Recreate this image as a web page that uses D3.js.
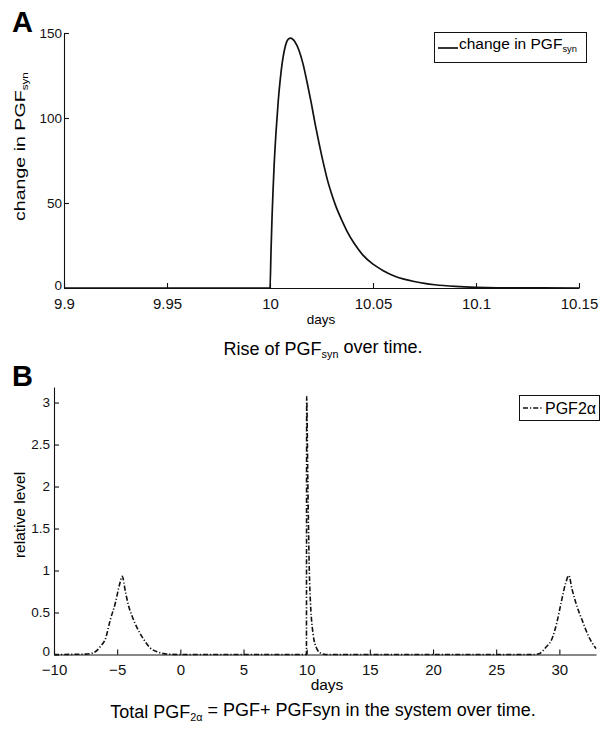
<!DOCTYPE html>
<html>
<head>
<meta charset="utf-8">
<script src="https://cdn.jsdelivr.net/npm/d3@7"></script>
<style>
    body { margin: 0; background: #fff; }
    svg { display: block; font-family: Arial, 'Liberation Sans', Helvetica, sans-serif; }
</style>
</head>
<body>
<svg id="chart" width="616" height="729"></svg>
<script>
// Panel A: change in PGFsyn against days
const synDays = [9.9, 10.0, 10.0005, 10.001, 10.0015, 10.002, 10.003, 10.004, 10.005, 10.006,
    10.007, 10.008, 10.009, 10.01, 10.012, 10.014, 10.016, 10.018, 10.02, 10.022,
    10.024, 10.026, 10.028, 10.03, 10.032, 10.035, 10.038, 10.041, 10.045, 10.05,
    10.055, 10.06, 10.065, 10.07, 10.075, 10.08, 10.09, 10.1, 10.11, 10.15];
const synChange = [0, 0, 22, 42, 58, 72, 93, 110, 123, 133,
    140, 144.5, 146.5, 147, 145, 140, 132, 121, 109, 96,
    84, 73, 63, 55, 48, 39.5, 32, 26, 19.5, 14,
    10.2, 7.2, 5.2, 3.8, 2.7, 1.9, 0.9, 0.35, 0.1, 0];

// Panel B: relative level of PGF2a against days
const totalDays = [-10, -7.5, -6.9, -6.3, -5.9, -5.55, -5.15, -4.8, -4.6, -4.35,
    -4.1, -3.8, -3.4, -2.9, -2.4, -1.8, -1, 0, 9.98, 10.0,
    10.09, 10.23, 10.5, 10.8, 11.17, 11.5, 28.0, 28.4, 28.9, 29.45,
    29.8, 30.13, 30.5, 30.75, 31.0, 31.4, 31.8, 32.3, 32.9];
const totalLevel = [0, 0.005, 0.02, 0.1, 0.2, 0.41, 0.61, 0.84, 0.93, 0.75,
    0.58, 0.45, 0.31, 0.18, 0.08, 0.03, 0.005, 0, 0, 3.07,
    2.07, 0.88, 0.25, 0.07, 0.01, 0, 0, 0.01, 0.08, 0.2,
    0.38, 0.61, 0.85, 0.94, 0.78, 0.57, 0.41, 0.22, 0.07];

// Tick labels
const synTicksX = [9.9, 9.95, 10, 10.05, 10.1, 10.15];
const synTicksY = [0, 50, 100, 150];
const totalTicksX = [-10, -5, 0, 5, 10, 15, 20, 25, 30];
const totalTicksY = [0, 0.5, 1, 1.5, 2, 2.5, 3];

/**
 * Visual configs.
 */
const svg = d3.select('#chart');
const tickFont = 15, yTickFont = 13.5, capFont = 18;
const dashDot = '5,2,1.2,2';

const xA = d3.scaleLinear().domain([9.9, 10.15]).range([64, 579]),
    yA = d3.scaleLinear().domain([0, 150]).range([288, 33]),
    xB = d3.scaleLinear().domain([-10, 32.9]).range([54, 596]),
    yB = d3.scaleLinear().domain([0, 3.185]).range([654.5, 387]);

function drawAxes(x, y, ticksX, ticksY, yPad) {
    const gx = svg.append('g')
        .attr('transform', 'translate(0,' + y.range()[0] + ')')
        .call(d3.axisBottom(x).tickValues(ticksX).tickFormat(d => d3.format('')(d))
            .tickSizeInner(-5).tickSizeOuter(0).tickPadding(10));
    gx.attr('font-size', tickFont).attr('font-family', null);

    const gy = svg.append('g')
        .attr('transform', 'translate(' + x.range()[0] + ',0)')
        .call(d3.axisLeft(y).tickValues(ticksY).tickFormat(d => d3.format('')(d))
            .tickSizeInner(-5).tickSizeOuter(0).tickPadding(yPad));
    gy.attr('font-size', yTickFont).attr('font-family', null);
    // lift the zero label a little so it clears the x labels
    gy.selectAll('.tick text').filter(d => d === 0).attr('dy', '0.1em');

    svg.selectAll('.domain, .tick line').attr('stroke', '#111').attr('stroke-width', 1.1);
    svg.selectAll('.tick text').attr('fill', '#111');
}

function subText(sel, parts) {
    // parts: [text, isSub]
    parts.forEach(([t, isSub], i) => {
        const prevSub = i > 0 && parts[i - 1][1];
        sel.append('tspan')
            .attr('font-size', isSub ? '0.6em' : null)
            .attr('dy', isSub ? '0.3em' : (prevSub ? '-0.3em' : null))
            .text(t);
    });
    return sel;
}

/**
 * Panel A.
 */
drawAxes(xA, yA, synTicksX, synTicksY, 2);

const synData = synDays.map((d, i) => ({ x: d, y: synChange[i] }));
svg.append('path')
    .datum(synData)
    .attr('fill', 'none')
    .attr('stroke', '#111')
    .attr('stroke-width', 1.7)
    .attr('d', d3.line().x(d => xA(d.x)).y(d => yA(d.y)).curve(d3.curveMonotoneX));

svg.append('text').attr('x', 12).attr('y', 32)
    .attr('font-size', 29).attr('font-weight', 'bold').text('A');

// y label, drawn stretched along its length like the original
subText(svg.append('text')
    .attr('transform', 'translate(25,221) rotate(-90) scale(1.4,1)')
    .attr('font-size', 14), [['change in PGF', false], ['syn', true]]);

svg.append('text').attr('x', 321).attr('y', 324)
    .attr('text-anchor', 'middle').attr('font-size', 13.5).text('days');

subText(svg.append('text').attr('x', 323).attr('y', 355)
    .attr('text-anchor', 'middle').attr('font-size', capFont),
    [['Rise of PGF', false], ['syn', true], [' over time.', false]]);

// legend A
svg.append('rect').attr('x', 434.5).attr('y', 32.5).attr('width', 152).attr('height', 30)
    .attr('fill', '#fff').attr('stroke', '#111').attr('stroke-width', 1);
svg.append('line').attr('x1', 438).attr('x2', 458).attr('y1', 48).attr('y2', 48)
    .attr('stroke', '#111').attr('stroke-width', 1.7);
subText(svg.append('text').attr('x', 459).attr('y', 49).attr('font-size', 15.5),
    [['change in PGF', false], ['syn', true]]);

/**
 * Panel B.
 */
drawAxes(xB, yB, totalTicksX, totalTicksY, 4);

const totalData = totalDays.map((d, i) => ({ x: d, y: totalLevel[i] }));
svg.append('path')
    .datum(totalData)
    .attr('fill', 'none')
    .attr('stroke', '#111')
    .attr('stroke-width', 1.6)
    .attr('stroke-dasharray', dashDot)
    .attr('d', d3.line().x(d => xB(d.x)).y(d => yB(d.y)).curve(d3.curveMonotoneX));

svg.append('text').attr('x', 12).attr('y', 386)
    .attr('font-size', 29).attr('font-weight', 'bold').text('B');

svg.append('text')
    .attr('transform', 'translate(25,515) rotate(-90)')
    .attr('text-anchor', 'middle').attr('font-size', 15.5).text('relative level');

svg.append('text').attr('x', 327).attr('y', 690)
    .attr('text-anchor', 'middle').attr('font-size', 15.5).text('days');

subText(svg.append('text').attr('x', 323).attr('y', 718)
    .attr('text-anchor', 'middle').attr('font-size', capFont),
    [['Total PGF', false], ['2α', true], [' = PGF+ PGFsyn in the system over time.', false]]);

// legend B
svg.append('rect').attr('x', 519.5).attr('y', 395.5).attr('width', 80).attr('height', 25)
    .attr('fill', '#fff').attr('stroke', '#111').attr('stroke-width', 1);
svg.append('line').attr('x1', 523).attr('x2', 543).attr('y1', 408).attr('y2', 408)
    .attr('stroke', '#111').attr('stroke-width', 1.3).attr('stroke-dasharray', dashDot);
svg.append('text').attr('x', 545).attr('y', 414).attr('font-size', 16).text('PGF2α');
</script>
</body>
</html>
